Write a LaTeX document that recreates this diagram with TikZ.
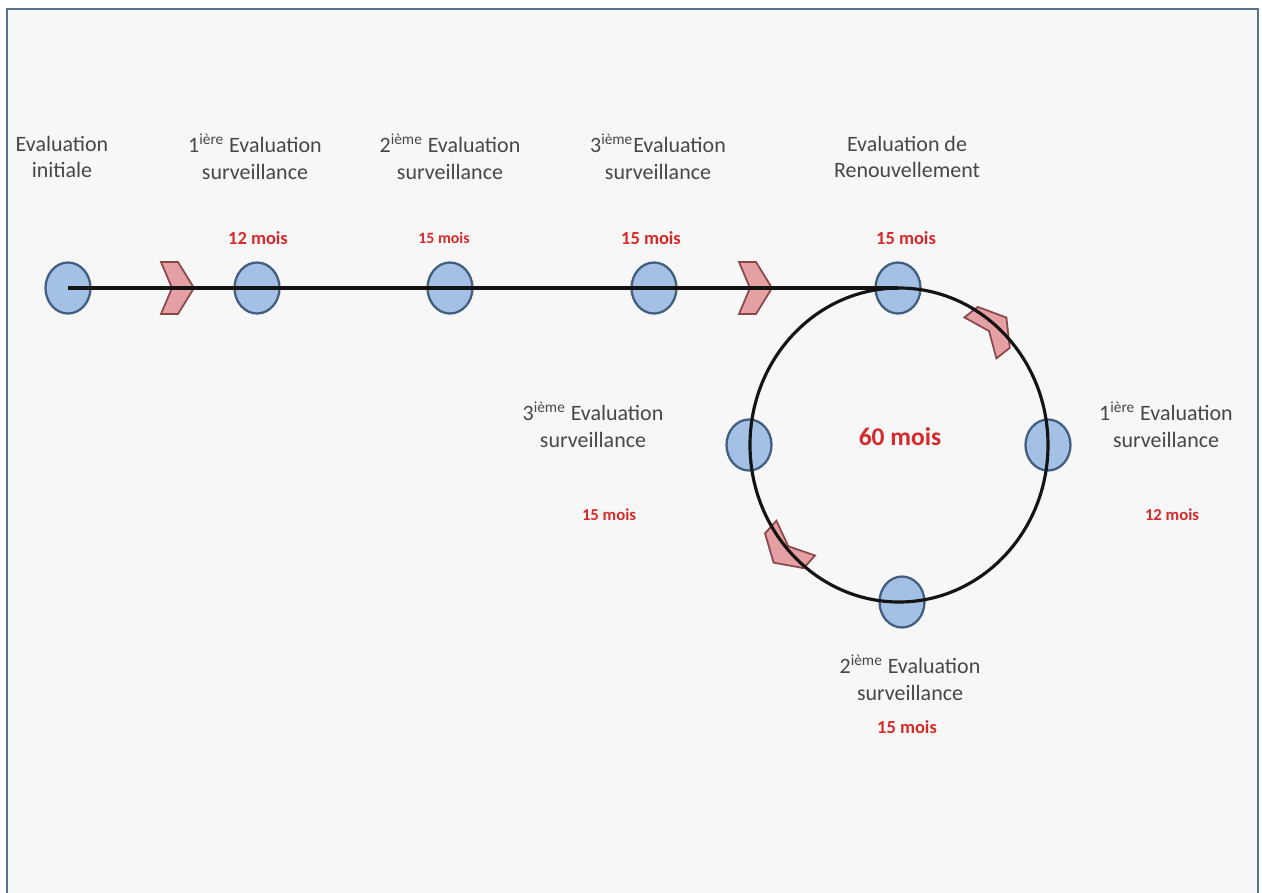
\documentclass[tikz,border=0pt]{standalone}
\usepackage{fontspec}
\setmainfont{Carlito}
\usetikzlibrary{shapes.geometric}
\definecolor{dotblue}{RGB}{164,192,228}
\definecolor{dotedge}{RGB}{66,94,128}
\definecolor{chevpink}{RGB}{228,160,162}
\definecolor{chevedge}{RGB}{138,72,74}
\definecolor{monthred}{RGB}{214,42,42}
\definecolor{paper}{RGB}{247,247,247}
\definecolor{frameblue}{RGB}{92,114,146}
\tikzset{
  stage/.style={
    ellipse,
    draw=dotedge,
    fill=dotblue,
    line width=1.3pt,
    minimum width=.9cm,
    minimum height=1.02cm,
    inner sep=0pt
  },
  track/.style={draw=black!92,line width=2.2pt},
  ring/.style={draw=black!92,line width=1.8pt},
  chev/.style={draw=chevedge,fill=chevpink,line width=1pt},
  caption/.style={font=\fontsize{12.5}{15.3}\selectfont,text=black!72,align=center},
  months/.style={font=\fontsize{10.5}{12}\selectfont\bfseries,text=monthred}
}
\newcommand{\chevron}[2]{%
  \draw[chev,shift={(#1)},rotate=#2]
    (-16,-26) -- (1,-26) -- (17,0) -- (1,26) -- (-16,26) -- (-5,0) -- cycle;%
}

\begin{document}
\begin{tikzpicture}[x=0.02cm,y=-0.02cm]
  % Page and frame.
  \useasboundingbox (0,0) rectangle (1262,893);
  \fill[paper] (7,9) rectangle (1258,893);
  \draw[frameblue,line width=1.3pt] (7,893) -- (7,9) -- (1258,9) -- (1258,893);

  % Captions above the track.
  \node[caption] (t0) at (62,157) {Evaluation\\initiale};
  \node[caption] (t1) at (255,157) {1\textsuperscript{ière} Evaluation\\surveillance};
  \node[caption] (t2) at (450,157) {2\textsuperscript{ième} Evaluation\\surveillance};
  \node[caption] (t3) at (658,157) {3\textsuperscript{ième}Evaluation\\surveillance};
  \node[caption] (t4) at (907,157) {Evaluation de\\Renouvellement};
  \node[months] (m1) at (258,238) {12 mois};
  \node[months,font=\fontsize{9}{11}\selectfont\bfseries] (m2) at (444,238) {15 mois};
  \node[months] (m3) at (651,238) {15 mois};
  \node[months] (m4) at (906,238) {15 mois};

  % Captions around the ring.
  \node[caption] (u1) at (1166,425) {1\textsuperscript{ière} Evaluation\\surveillance};
  \node[months,font=\fontsize{9.5}{11}\selectfont\bfseries] (n1) at (1172,515) {12 mois};
  \node[caption] (u2) at (910,678) {2\textsuperscript{ième} Evaluation\\surveillance};
  \node[months] (n2) at (907,727) {15 mois};
  \node[caption] (u3) at (593,425) {3\textsuperscript{ième} Evaluation\\surveillance};
  \node[months,font=\fontsize{9.5}{11}\selectfont\bfseries] (n3) at (609,515) {15 mois};
  \node[months,font=\fontsize{14.5}{17}\selectfont\bfseries] (total) at (900,437) {60 mois};

  % Stages along the track and on the ring.
  \foreach \name/\x in {s0/68,s1/257,s2/450,s3/654,s4/898} {
    \node[stage] (\name) at (\x,288) {};
  }
  \coordinate (hub) at (899,445);
  \node[stage] (r1) at (1048,445) {};
  \node[stage] (r2) at (902,602) {};
  \node[stage] (r3) at (749,445) {};

  % Chevrons.
  \chevron{177,288}{0}
  \chevron{755,288}{0}
  \chevron{993,328}{38}
  \chevron{785,550}{-132}

  % Track and ring on top.
  \draw[track] (s0.center) -- (s4.center);
  \draw[ring] (hub) ellipse [x radius=149,y radius=157];
\end{tikzpicture}
\end{document}
